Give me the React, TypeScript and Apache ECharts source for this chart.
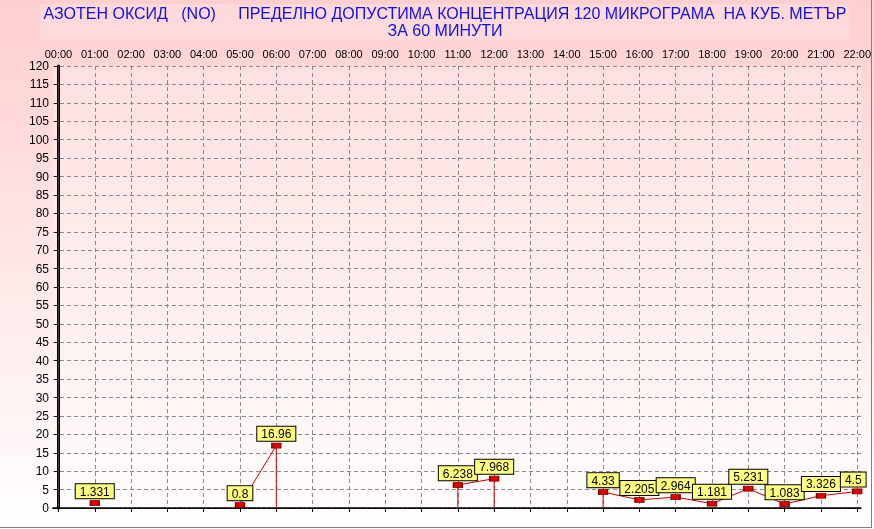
import React, { useEffect, useRef } from 'react';
import * as echarts from 'echarts';

const hourLabels = ['00:00', '01:00', '02:00', '03:00', '04:00', '05:00', '06:00', '07:00', '08:00', '09:00', '10:00', '11:00', '12:00', '13:00', '14:00', '15:00', '16:00', '17:00', '18:00', '19:00', '20:00', '21:00', '22:00'];
const noValues: (number | null)[] = [null, 1.331, null, null, null, 0.8, 16.96, null, null, null, null, 6.238, 7.968, null, null, 4.33, 2.205, 2.964, 1.181, 5.231, 1.083, 3.326, 4.5];
const dropHours = ['06:00', '11:00', '12:00', '15:00'];
const yMin = 0;
const yMax = 120;
const yStep = 5;
const titleLine1 = 'АЗОТЕН ОКСИД   (NO)     ПРЕДЕЛНО ДОПУСТИМА КОНЦЕНТРАЦИЯ 120 МИКРОГРАМА  НА КУБ. МЕТЪР';
const titleLine2 = 'ЗА 60 МИНУТИ';

const FONT = 'Arial, "Liberation Sans", sans-serif';

export default function App() {
  const ref = useRef<HTMLDivElement>(null);
  useEffect(() => {
    document.body.style.margin = '0';
    if (!ref.current) return;
    const chart = echarts.init(ref.current, null, { renderer: 'svg' });
    const hourIdx = hourLabels.map((_, i) => i);
    const lastIdx = noValues.length - 1;
    const lineData = noValues.map((v, i) =>
      v == null
        ? [i, '-']
        : i === lastIdx
        ? { value: [i, v], label: { offset: [-4, 0] } }
        : [i, v]
    );
    const dropData = dropHours.map((h) => {
      const i = hourLabels.indexOf(h);
      return [i, noValues[i]];
    });
    const xCommon = {
      type: 'value',
      min: -0.15,
      max: 22.1,
    };
    const option: any = {
      animation: false,
      graphic: [
        {
          type: 'rect',
          z: -100,
          silent: true,
          shape: { x: 0, y: 0, width: 874, height: 529 },
          style: {
            fill: new echarts.graphic.LinearGradient(0, 0, 0, 1, [
              { offset: 0, color: '#FFCFCF' },
              { offset: 1, color: '#FFFFFF' },
            ]),
          },
        },
        {
          type: 'rect',
          z: -90,
          silent: true,
          shape: { x: 40, y: 4, width: 809, height: 36 },
          style: { fill: 'rgba(255,236,236,0.35)' },
        },
        {
          type: 'text',
          z: 10,
          x: 445,
          y: 5,
          style: {
            text: titleLine1 + '\n' + titleLine2,
            align: 'center',
            verticalAlign: 'top',
            fontSize: 16,
            lineHeight: 17,
            fontFamily: FONT,
            fill: '#1010E8',
          },
        },
        {
          type: 'line',
          silent: true,
          shape: { x1: 871.5, y1: 0, x2: 871.5, y2: 528 },
          style: { stroke: '#808080', lineWidth: 1 },
        },
        {
          type: 'line',
          silent: true,
          shape: { x1: 0, y1: 527.5, x2: 872, y2: 527.5 },
          style: { stroke: '#808080', lineWidth: 1 },
        },
      ],
      grid: {
        left: 53,
        top: 66,
        right: 10,
        bottom: 21,
        show: true,
        borderWidth: 0,
        backgroundColor: new echarts.graphic.LinearGradient(0, 0, 0, 1, [
          { offset: 0, color: '#FFE0E0' },
          { offset: 1, color: '#FFFCFC' },
        ]),
      },
      xAxis: [
        {
          ...xCommon,
          position: 'top',
          axisLine: { show: true, lineStyle: { color: '#000', width: 1.5 } },
          axisTick: {
            show: true,
            inside: true,
            length: 4,
            customValues: hourIdx,
            lineStyle: { color: '#000' },
          },
          axisLabel: {
            customValues: hourIdx,
            formatter: (v: number) => hourLabels[Math.round(v)] ?? '',
            color: '#000',
            fontSize: 11,
            fontFamily: FONT,
            margin: 7,
          },
          splitLine: {
            show: true,
            lineStyle: { color: '#8A8A8A', type: [4, 3], width: 1 },
          },
        },
        {
          ...xCommon,
          position: 'bottom',
          axisLine: { show: true, lineStyle: { color: '#000', type: [3, 2], width: 1 } },
          axisTick: { show: false },
          axisLabel: { show: false },
          splitLine: { show: false },
        },
      ],
      yAxis: [
        {
          type: 'value',
          min: yMin,
          max: yMax,
          interval: yStep,
          position: 'left',
          axisLine: { show: true, lineStyle: { color: '#000', width: 3 } },
          axisTick: { show: true, length: 4, lineStyle: { color: '#000' } },
          axisLabel: {
            color: '#000',
            fontSize: 12,
            fontFamily: FONT,
            margin: 4,
          },
          splitLine: {
            show: true,
            lineStyle: { color: '#8A8A8A', type: [4, 3], width: 1 },
          },
        },
        {
          type: 'value',
          min: yMin,
          max: yMax,
          interval: yStep,
          position: 'right',
          axisLine: { show: true, lineStyle: { color: '#404040', width: 1 } },
          axisTick: { show: false },
          axisLabel: { show: false },
          splitLine: { show: false },
        },
      ],
      series: [
        {
          type: 'bar',
          xAxisIndex: 0,
          yAxisIndex: 0,
          data: dropData,
          barWidth: 1,
          itemStyle: { color: '#C00000' },
          silent: true,
          z: 2,
        },
        {
          type: 'line',
          xAxisIndex: 0,
          yAxisIndex: 0,
          data: lineData,
          connectNulls: false,
          symbol: 'rect',
          symbolSize: [9, 5],
          showSymbol: true,
          showAllSymbol: true,
          lineStyle: { color: '#C00000', width: 1 },
          itemStyle: { color: '#E00000', borderColor: '#800000', borderWidth: 1 },
          label: {
            show: true,
            position: 'top',
            distance: 2,
            color: '#000',
            fontSize: 12,
            fontFamily: FONT,
            lineHeight: 13,
            backgroundColor: '#FFFF80',
            borderColor: '#000',
            borderWidth: 1,
            padding: [1, 4, 0, 4],
            formatter: (p: any) => String(p.value[1]),
          },
          z: 3,
        },
      ],
    };
    chart.setOption(option);
    return () => chart.dispose();
  }, []);
  return (
    <div
      ref={ref}
      style={{ position: 'fixed', left: 0, top: 0, width: 874, height: 529 }}
    />
  );
}
